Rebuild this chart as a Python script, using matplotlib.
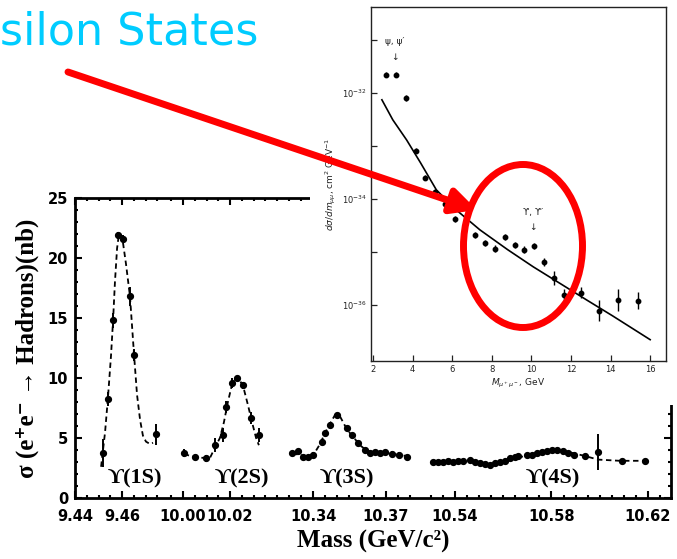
import numpy as np
import matplotlib
matplotlib.use('Agg')
import matplotlib.pyplot as plt
from matplotlib.patches import Rectangle, Ellipse

W, H = 677, 559

# ---- bottom plot: e+e- -> hadrons around the Upsilon resonances ----
# masses in GeV, cross sections in nb
s1_mass = [9.4519, 9.4540, 9.4562, 9.4583, 9.4604, 9.4634, 9.4651, 9.4745]
s1_sigma = [3.75, 8.25, 14.8, 21.9, 21.6, 16.8, 11.9, 5.3]
s1_err = [1.2, 0.6, 0.6, 0.3, 0.3, 0.8, 0.5, 0.9]

s2_mass = [10.0004, 10.0051, 10.0098, 10.0136, 10.0170, 10.0183, 10.0209,
           10.0230, 10.0255, 10.0289, 10.0323]
s2_sigma = [3.75, 3.4, 3.3, 4.4, 5.25, 7.6, 9.6, 10.0, 9.4, 6.7, 5.25]
s2_err = [0.3, 0.2, 0.3, 0.6, 0.6, 0.5, 0.4, 0.2, 0.3, 0.5, 0.6]

s3_mass = [10.3314, 10.3338, 10.3359, 10.3379, 10.3400, 10.3437, 10.3449,
           10.3470, 10.3499, 10.3540, 10.3560, 10.3585, 10.3614, 10.3634,
           10.3655, 10.3675, 10.3696, 10.3725, 10.3753, 10.3786]
s3_sigma = [3.75, 3.9, 3.4, 3.4, 3.6, 4.7, 5.4, 6.1, 6.9, 5.8, 5.25, 4.6,
            4.0, 3.75, 3.8, 3.75, 3.8, 3.7, 3.6, 3.4]
s3_err = [0.2] * 20

s4_mass = [10.5309, 10.5330, 10.5350, 10.5371, 10.5392, 10.5412, 10.5433,
           10.5462, 10.5483, 10.5504, 10.5524, 10.5545, 10.5566, 10.5587,
           10.5607, 10.5628, 10.5649, 10.5661, 10.5699, 10.5719, 10.5740,
           10.5761, 10.5781, 10.5802, 10.5823, 10.5848, 10.5868, 10.5893,
           10.5939, 10.5993, 10.6092, 10.6188]
s4_sigma = [3.0, 3.0, 3.0, 3.05, 3.0, 3.1, 3.05, 3.15, 3.0, 2.9, 2.8, 2.75,
            2.9, 3.0, 3.1, 3.3, 3.4, 3.5, 3.55, 3.6, 3.75, 3.85, 3.95, 4.0,
            4.0, 3.9, 3.75, 3.6, 3.5, 3.8, 3.1, 3.1]
s4_err = [0.15] * 29 + [1.5, 0.15, 0.15]

# fitted line shapes (dashed)
f1_mass = [9.4511, 9.4528, 9.4540, 9.4553, 9.4562, 9.4570, 9.4579, 9.4587,
           9.4596, 9.4604, 9.4617, 9.4634, 9.4651, 9.4664, 9.4677, 9.4689,
           9.4702, 9.4719, 9.4732]
f1_sigma = [2.6, 5.5, 8.3, 11.8, 14.8, 18.0, 20.8, 22.0, 21.9, 21.3, 19.5,
            16.8, 12.0, 8.6, 6.5, 5.2, 4.7, 4.5, 4.6]
f2_mass = [10.0004, 10.0030, 10.0072, 10.0115, 10.0136, 10.0157, 10.0174,
           10.0191, 10.0209, 10.0226, 10.0243, 10.0260, 10.0277, 10.0294,
           10.0311, 10.0323]
f2_sigma = [3.7, 3.5, 3.35, 3.35, 4.2, 5.0, 6.3, 8.0, 9.5, 10.0, 9.8, 9.0,
            7.7, 6.3, 5.0, 4.4]
f3_mass = [10.3314, 10.3347, 10.3379, 10.3408, 10.3429, 10.3449, 10.3470,
           10.3490, 10.3511, 10.3532, 10.3552, 10.3573, 10.3593, 10.3618,
           10.3642, 10.3696, 10.3786]
f3_sigma = [3.7, 3.6, 3.4, 3.8, 4.5, 5.4, 6.2, 6.9, 6.8, 6.0, 5.4, 4.9, 4.4,
            4.0, 3.8, 3.75, 3.5]
f4_mass = [10.5587, 10.5669, 10.5752, 10.5815, 10.5877, 10.5939, 10.5993,
           10.6084, 10.6188]
f4_sigma = [3.0, 3.4, 3.8, 4.0, 3.8, 3.5, 3.2, 3.1, 3.1]

tick_mass = [9.44, 9.46, 10.00, 10.02, 10.34, 10.37, 10.54, 10.58, 10.62]
tick_text = ['9.44', '9.46', '10.00', '10.02', '10.34', '10.37', '10.54',
             '10.58', '10.62']
peak_names = ['ϒ(1S)', 'ϒ(2S)', 'ϒ(3S)', 'ϒ(4S)']
peak_mass = [9.4655, 10.0251, 10.3540, 10.5806]

# ---- inset: Drell-Yan mu+mu- spectrum ----
dy_mass = [2.65, 3.15, 3.65, 4.15, 4.65, 5.15, 5.65, 6.15, 7.15, 7.65, 8.15,
           8.65, 9.15, 9.65, 10.15, 10.65, 11.15, 11.65, 12.5, 13.4, 14.4, 15.4]
dy_xsec = [2.19e-32, 2.19e-32, 8.1e-33, 8.1e-34, 2.5e-34, 1.35e-34, 8.1e-35,
           4.2e-35, 2.1e-35, 1.48e-35, 1.15e-35, 1.9e-35, 1.35e-35, 1.1e-35,
           1.3e-35, 6.5e-36, 3.2e-36, 1.55e-36, 1.7e-36, 7.8e-37, 1.23e-36,
           1.2e-36]
dy_err_dec = [0.05, 0.05, 0.06, 0.05, 0.05, 0.05, 0.06, 0.06, 0.06, 0.06,
              0.06, 0.06, 0.06, 0.06, 0.06, 0.08, 0.13, 0.1, 0.1, 0.2, 0.2,
              0.16]
dy_fit_mass = [2.45, 3.0, 3.7, 4.4, 5.2, 6.2, 7.4, 8.8, 10.1, 11.4, 12.8,
               14.1, 16.0]
dy_fit_xsec = [7.4e-33, 3.1e-33, 1.29e-33, 4.8e-34, 1.48e-34, 6.2e-35,
               2.6e-35, 1.1e-35, 5.2e-36, 2.6e-36, 1.23e-36, 6.2e-37, 2.2e-37]

# broken mass axis: (lo, hi, reference mass, axis position, scale)
SEGMENTS = [(9.40, 9.60, 9.44, 75, 2350),
            (9.90, 10.10, 10.00, 183, 2350),
            (10.30, 10.45, 10.34, 313, 2433),
            (10.45, 10.70, 10.54, 455, 2412)]
SEG_RANGES = [(9.44, 9.476), (9.995, 10.041), (10.330, 10.384),
              (10.530, 10.626)]


def to_axis(m):
    m = np.atleast_1d(np.asarray(m, dtype=float))
    out = np.zeros_like(m)
    for lo, hi, m0, x0, k in SEGMENTS:
        sel = (m >= lo) & (m < hi)
        out[sel] = x0 + (m[sel] - m0) * k
    return out


def px_box(l, t, r, b):
    return [l / W, 1 - b / H, (r - l) / W, (b - t) / H]


fig = plt.figure(figsize=(W / 100, H / 100), dpi=100)

ax = fig.add_axes(px_box(75, 198, 671, 498), zorder=0)
ax.set_xlim(75, 671)
ax.set_ylim(0, 25)

for m, s, e in [(s1_mass, s1_sigma, s1_err), (s2_mass, s2_sigma, s2_err),
                (s3_mass, s3_sigma, s3_err), (s4_mass, s4_sigma, s4_err)]:
    ax.errorbar(to_axis(m), s, yerr=e, fmt='o', color='k', ms=4.2,
                elinewidth=1.4, capsize=0)
for m, s in [(f1_mass, f1_sigma), (f2_mass, f2_sigma), (f3_mass, f3_sigma),
             (f4_mass, f4_sigma)]:
    ax.plot(to_axis(m), s, color='k', lw=1.3, ls=(0, (3, 2)))

serif_bold = dict(family=['Liberation Serif', 'DejaVu Serif'], weight='bold')
for name, m in zip(peak_names, peak_mass):
    ax.text(to_axis(m)[0], 1.65, name, ha='center', va='center', fontsize=16,
            **serif_bold)

minor = []
for lo, hi in SEG_RANGES:
    minor.extend(np.arange(lo, hi + 1e-9, 0.005))
ax.set_xticks(to_axis(tick_mass))
ax.set_xticklabels(tick_text)
ax.set_xticks(to_axis(minor), minor=True)
ax.set_yticks([0, 5, 10, 15, 20, 25])
ax.set_yticks(np.arange(0, 26, 1), minor=True)
ax.tick_params(which='both', direction='in', top=True, right=True, width=1.5)
ax.tick_params(which='major', length=5, pad=8, labelsize=10.5)
ax.tick_params(which='minor', length=2.5)
ax.tick_params(axis='y', pad=5)
for lab in ax.get_xticklabels() + ax.get_yticklabels():
    lab.set_fontweight('bold')
for sp in ax.spines.values():
    sp.set_linewidth(2)
ax.set_xlabel('Mass (GeV/c²)', fontsize=18, labelpad=4, **serif_bold)
ax.set_ylabel('σ (e⁺e⁻ → Hadrons)(nb)', fontsize=18, labelpad=6,
              **serif_bold)

# white sheet of the pasted inset figure
fig.add_artist(Rectangle((310 / W, 1 - 405 / H), (W - 310) / W, 405 / H,
                         transform=fig.transFigure, facecolor='white',
                         edgecolor='none', zorder=1))

# ---- inset ----
ink = '#222222'
axi = fig.add_axes(px_box(371, 7, 666, 361), zorder=2)
axi.set_yscale('log')
axi.set_xlim(1.9, 16.8)
axi.set_ylim(10 ** -37.06, 10 ** -30.38)
dy_xsec_a = np.array(dy_xsec)
dec = np.array(dy_err_dec)
axi.errorbar(dy_mass, dy_xsec_a,
             yerr=[dy_xsec_a * (1 - 10 ** -dec), dy_xsec_a * (10 ** dec - 1)],
             fmt='o', color='k', ms=3.2, elinewidth=1.0, capsize=0)
axi.plot(dy_fit_mass, dy_fit_xsec, color='k', lw=1.2)
axi.set_xticks(range(2, 17, 2))
axi.set_yticks([10.0 ** e for e in range(-36, -30)])
axi.set_yticklabels(['' if e % 2 else r'$10^{%d}$' % e for e in range(-36, -30)])
axi.yaxis.set_minor_locator(matplotlib.ticker.NullLocator())
axi.tick_params(which='both', direction='in', length=4, width=0.9,
                labelsize=6, labelcolor=ink, color=ink, pad=3)
for sp in axi.spines.values():
    sp.set_linewidth(1.0)
    sp.set_color(ink)
sans6 = dict(family='DejaVu Sans', fontsize=6.5, color=ink)
axi.set_xlabel(r'$M_{\mu^+\mu^-}$, GeV', labelpad=2, **sans6)
axi.set_ylabel(r'$d\sigma/dm_{\mu\mu}$, cm$^2$ GeV$^{-1}$', labelpad=3, **sans6)
axi.text(3.11, 10 ** -31.04, 'ψ, ψ′', ha='center', va='center', **sans6)
axi.text(3.11, 10 ** -31.34, '↓', ha='center', va='center', **sans6)
axi.text(10.08, 10 ** -34.26, 'ϒ, ϒ′', ha='center', va='center', **sans6)
axi.text(10.08, 10 ** -34.55, '↓', ha='center', va='center', **sans6)

# ---- slide overlay: title, arrow and circle ----
ov = fig.add_axes([0, 0, 1, 1], zorder=3)
ov.set_xlim(0, W)
ov.set_ylim(H, 0)
ov.axis('off')
ov.patch.set_alpha(0)
ov.text(258, 45, 'Upsilon States', ha='right', va='baseline', fontsize=32,
        color='#00CCFF', family='DejaVu Sans')
ov.annotate('', xy=(477, 210), xytext=(68, 72),
            arrowprops=dict(arrowstyle='-|>,head_length=1.0,head_width=0.5',
                            color='red', lw=5, mutation_scale=15,
                            shrinkA=0, shrinkB=0))
ov.add_patch(Ellipse((523, 246), 119, 163, facecolor='none',
                     edgecolor='red', lw=5))

fig.savefig('out.png', dpi=100)
